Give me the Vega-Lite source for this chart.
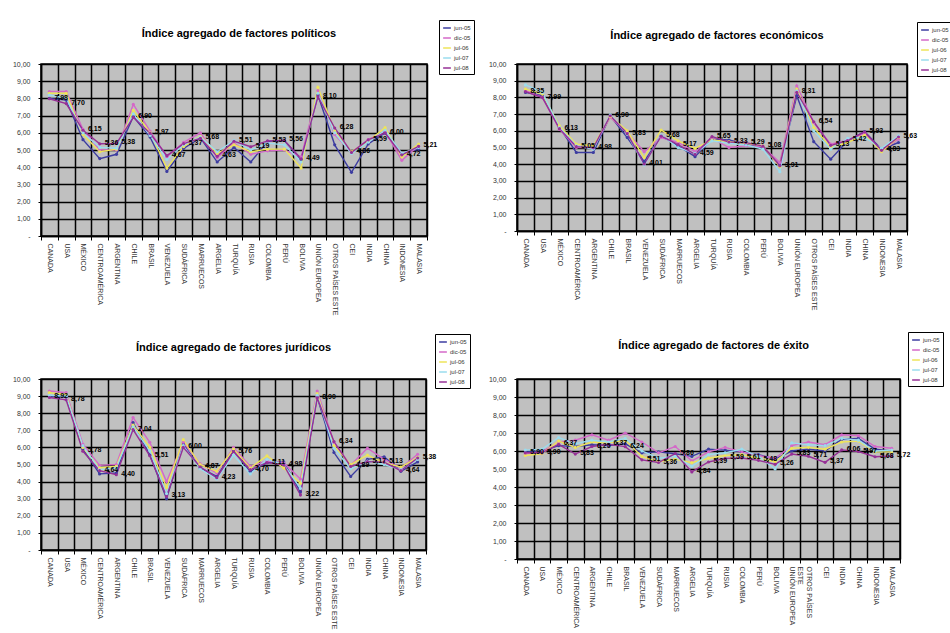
{
  "$schema": "https://vega.github.io/schema/vega-lite/v6.json",
  "background": "white",
  "padding": {"left": 11, "top": 18, "right": 0, "bottom": 0},
  "columns": 2,
  "bounds": "flush",
  "spacing": {"row": 143, "column": 90},
  "datasets": {
    "pol": [
      {"pais": "CANADA", "jun-05": 8.0, "dic-05": 8.4, "jul-06": 8.3, "jul-07": 8.2, "jul-08": 7.98},
      {"pais": "USA", "jun-05": 7.9, "dic-05": 8.4, "jul-06": 8.3, "jul-07": 8.0, "jul-08": 7.70},
      {"pais": "MÉXICO", "jun-05": 5.6, "dic-05": 6.2, "jul-06": 5.9, "jul-07": 6.0, "jul-08": 6.15},
      {"pais": "CENTROAMÉRICA", "jun-05": 4.5, "dic-05": 5.0, "jul-06": 4.9, "jul-07": 5.15, "jul-08": 5.36},
      {"pais": "ARGENTINA", "jun-05": 4.75, "dic-05": 5.0, "jul-06": 5.05, "jul-07": 5.1, "jul-08": 5.38},
      {"pais": "CHILE", "jun-05": 6.95, "dic-05": 7.65, "jul-06": 7.3, "jul-07": 7.1, "jul-08": 6.90},
      {"pais": "BRASIL", "jun-05": 5.75, "dic-05": 6.1, "jul-06": 6.0, "jul-07": 5.85, "jul-08": 5.97},
      {"pais": "VENEZUELA", "jun-05": 3.75, "dic-05": 4.6, "jul-06": 3.95, "jul-07": 4.45, "jul-08": 4.67},
      {"pais": "SUDÁFRICA", "jun-05": 5.1, "dic-05": 5.45, "jul-06": 5.2, "jul-07": 5.3, "jul-08": 5.37},
      {"pais": "MARRUECOS", "jun-05": 5.7, "dic-05": 6.0, "jul-06": 5.8, "jul-07": 5.75, "jul-08": 5.68},
      {"pais": "ARGELIA", "jun-05": 4.3, "dic-05": 4.55, "jul-06": 4.8, "jul-07": 4.9, "jul-08": 4.63},
      {"pais": "TURQUÍA", "jun-05": 5.15, "dic-05": 5.4, "jul-06": 5.3, "jul-07": 5.55, "jul-08": 5.51},
      {"pais": "RUSIA", "jun-05": 4.3, "dic-05": 4.75, "jul-06": 4.9, "jul-07": 5.0, "jul-08": 5.19},
      {"pais": "COLOMBIA", "jun-05": 5.5, "dic-05": 4.95, "jul-06": 5.05, "jul-07": 5.4, "jul-08": 5.53},
      {"pais": "PERÚ", "jun-05": 5.55, "dic-05": 5.0, "jul-06": 5.05, "jul-07": 5.3, "jul-08": 5.56},
      {"pais": "BOLIVIA", "jun-05": 4.45, "dic-05": 4.6, "jul-06": 3.95, "jul-07": 4.3, "jul-08": 4.49},
      {"pais": "UNIÓN EUROPEA", "jun-05": 8.2, "dic-05": 8.45, "jul-06": 8.65, "jul-07": 8.3, "jul-08": 8.10},
      {"pais": "OTROS PAÍSES ESTE", "jun-05": 5.3, "dic-05": 5.9, "jul-06": 6.1, "jul-07": 6.0, "jul-08": 6.28},
      {"pais": "CEI", "jun-05": 3.7, "dic-05": 4.85, "jul-06": 4.9, "jul-07": 4.8, "jul-08": 4.86},
      {"pais": "INDIA", "jun-05": 5.35, "dic-05": 5.6, "jul-06": 5.5, "jul-07": 5.45, "jul-08": 5.59},
      {"pais": "CHINA", "jun-05": 6.0, "dic-05": 6.1, "jul-06": 6.3, "jul-07": 6.15, "jul-08": 6.00},
      {"pais": "INDONESIA", "jun-05": 4.75, "dic-05": 4.4, "jul-06": 4.6, "jul-07": 4.8, "jul-08": 4.72},
      {"pais": "MALASIA", "jun-05": 5.05, "dic-05": 5.25, "jul-06": 5.35, "jul-07": 5.15, "jul-08": 5.21}
    ],
    "eco": [
      {"pais": "CANADA", "jun-05": 8.3, "dic-05": 8.4, "jul-06": 8.5, "jul-07": 8.75, "jul-08": 8.35},
      {"pais": "USA", "jun-05": 8.1, "dic-05": 8.0, "jul-06": 8.2, "jul-07": 8.3, "jul-08": 7.99},
      {"pais": "MÉXICO", "jun-05": 6.2, "dic-05": 6.1, "jul-06": 6.3, "jul-07": 6.2, "jul-08": 6.13},
      {"pais": "CENTROAMÉRICA", "jun-05": 4.7, "dic-05": 5.0, "jul-06": 5.2, "jul-07": 5.1, "jul-08": 5.05},
      {"pais": "ARGENTINA", "jun-05": 4.7, "dic-05": 5.0, "jul-06": 5.1, "jul-07": 4.9, "jul-08": 4.98},
      {"pais": "CHILE", "jun-05": 6.9, "dic-05": 6.8, "jul-06": 6.85, "jul-07": 6.95, "jul-08": 6.90},
      {"pais": "BRASIL", "jun-05": 5.6, "dic-05": 5.9, "jul-06": 6.0, "jul-07": 5.8, "jul-08": 5.83},
      {"pais": "VENEZUELA", "jun-05": 4.15, "dic-05": 4.75, "jul-06": 4.4, "jul-07": 3.95, "jul-08": 4.01},
      {"pais": "SUDÁFRICA", "jun-05": 5.7, "dic-05": 5.6, "jul-06": 6.05, "jul-07": 5.75, "jul-08": 5.68},
      {"pais": "MARRUECOS", "jun-05": 5.1, "dic-05": 5.3, "jul-06": 5.4, "jul-07": 5.0, "jul-08": 5.17},
      {"pais": "ARGELIA", "jun-05": 4.45, "dic-05": 4.75, "jul-06": 4.95, "jul-07": 4.65, "jul-08": 4.59},
      {"pais": "TURQUÍA", "jun-05": 5.5, "dic-05": 5.55, "jul-06": 5.45, "jul-07": 5.4, "jul-08": 5.65},
      {"pais": "RUSIA", "jun-05": 5.45, "dic-05": 5.0, "jul-06": 5.35, "jul-07": 5.25, "jul-08": 5.33},
      {"pais": "COLOMBIA", "jun-05": 5.2, "dic-05": 5.1, "jul-06": 5.25, "jul-07": 5.15, "jul-08": 5.29},
      {"pais": "PERÚ", "jun-05": 5.0, "dic-05": 5.05, "jul-06": 5.1, "jul-07": 4.9, "jul-08": 5.08},
      {"pais": "BOLIVIA", "jun-05": 3.95, "dic-05": 4.1, "jul-06": 3.85, "jul-07": 3.55, "jul-08": 3.91},
      {"pais": "UNIÓN EUROPEA", "jun-05": 8.1, "dic-05": 8.7, "jul-06": 8.5, "jul-07": 8.4, "jul-08": 8.31},
      {"pais": "OTROS PAÍSES ESTE", "jun-05": 5.35, "dic-05": 6.5, "jul-06": 6.2, "jul-07": 6.0, "jul-08": 6.54},
      {"pais": "CEI", "jun-05": 4.3, "dic-05": 5.2, "jul-06": 5.0, "jul-07": 4.9, "jul-08": 5.13},
      {"pais": "INDIA", "jun-05": 5.4, "dic-05": 5.45, "jul-06": 5.3, "jul-07": 5.55, "jul-08": 5.42},
      {"pais": "CHINA", "jun-05": 5.95, "dic-05": 5.85, "jul-06": 5.75, "jul-07": 5.6, "jul-08": 5.93},
      {"pais": "INDONESIA", "jun-05": 4.9, "dic-05": 4.8, "jul-06": 4.75, "jul-07": 4.95, "jul-08": 4.83},
      {"pais": "MALASIA", "jun-05": 5.3, "dic-05": 5.5, "jul-06": 5.6, "jul-07": 5.7, "jul-08": 5.63}
    ],
    "jur": [
      {"pais": "CANADA", "jun-05": 9.0, "dic-05": 9.3, "jul-06": 9.2, "jul-07": 9.05, "jul-08": 8.92},
      {"pais": "USA", "jun-05": 8.95, "dic-05": 9.2, "jul-06": 9.1, "jul-07": 9.0, "jul-08": 8.78},
      {"pais": "MÉXICO", "jun-05": 5.9, "dic-05": 6.2, "jul-06": 6.0, "jul-07": 6.1, "jul-08": 5.78},
      {"pais": "CENTROAMÉRICA", "jun-05": 4.45, "dic-05": 4.95, "jul-06": 4.8, "jul-07": 4.7, "jul-08": 4.64},
      {"pais": "ARGENTINA", "jun-05": 4.5, "dic-05": 5.0, "jul-06": 4.9, "jul-07": 4.8, "jul-08": 4.40},
      {"pais": "CHILE", "jun-05": 7.45, "dic-05": 7.75, "jul-06": 7.3, "jul-07": 7.2, "jul-08": 7.04},
      {"pais": "BRASIL", "jun-05": 5.55, "dic-05": 6.3, "jul-06": 6.0, "jul-07": 5.8, "jul-08": 5.51},
      {"pais": "VENEZUELA", "jun-05": 3.0, "dic-05": 4.0, "jul-06": 3.65, "jul-07": 3.3, "jul-08": 3.13},
      {"pais": "SUDÁFRICA", "jun-05": 6.2, "dic-05": 6.3, "jul-06": 6.45, "jul-07": 6.1, "jul-08": 6.00},
      {"pais": "MARRUECOS", "jun-05": 4.8, "dic-05": 5.05, "jul-06": 5.0, "jul-07": 4.75, "jul-08": 4.87},
      {"pais": "ARGELIA", "jun-05": 4.3, "dic-05": 4.5, "jul-06": 4.6, "jul-07": 4.15, "jul-08": 4.23},
      {"pais": "TURQUÍA", "jun-05": 5.8, "dic-05": 6.0, "jul-06": 5.9, "jul-07": 5.55, "jul-08": 5.76},
      {"pais": "RUSIA", "jun-05": 4.6, "dic-05": 4.9, "jul-06": 4.8, "jul-07": 4.45, "jul-08": 4.70},
      {"pais": "COLOMBIA", "jun-05": 5.1, "dic-05": 5.2, "jul-06": 5.5, "jul-07": 5.3, "jul-08": 5.11},
      {"pais": "PERÚ", "jun-05": 5.15, "dic-05": 5.1, "jul-06": 4.8, "jul-07": 5.0, "jul-08": 4.98},
      {"pais": "BOLIVIA", "jun-05": 3.4, "dic-05": 4.15, "jul-06": 3.9, "jul-07": 3.6, "jul-08": 3.22},
      {"pais": "UNIÓN EUROPEA", "jun-05": 8.95, "dic-05": 9.3, "jul-06": 9.15, "jul-07": 9.05, "jul-08": 8.90},
      {"pais": "OTROS PAÍSES ESTE", "jun-05": 5.7, "dic-05": 6.3, "jul-06": 6.1, "jul-07": 5.95, "jul-08": 6.34},
      {"pais": "CEI", "jun-05": 4.3, "dic-05": 4.95, "jul-06": 5.0, "jul-07": 4.75, "jul-08": 4.89},
      {"pais": "INDIA", "jun-05": 5.3, "dic-05": 5.95, "jul-06": 5.55, "jul-07": 5.2, "jul-08": 5.17},
      {"pais": "CHINA", "jun-05": 5.45, "dic-05": 5.3, "jul-06": 5.1, "jul-07": 5.0, "jul-08": 5.13},
      {"pais": "INDONESIA", "jun-05": 4.6, "dic-05": 4.8, "jul-06": 4.85, "jul-07": 4.7, "jul-08": 4.64},
      {"pais": "MALASIA", "jun-05": 5.15, "dic-05": 5.6, "jul-06": 5.4, "jul-07": 5.3, "jul-08": 5.38}
    ],
    "exi": [
      {"pais": "CANADA", "jun-05": 5.95, "dic-05": 5.85, "jul-06": 5.75, "jul-07": 6.05, "jul-08": 5.90},
      {"pais": "USA", "jun-05": 6.0, "dic-05": 5.95, "jul-06": 5.85, "jul-07": 6.1, "jul-08": 5.90},
      {"pais": "MÉXICO", "jun-05": 6.3, "dic-05": 6.5, "jul-06": 6.55, "jul-07": 6.75, "jul-08": 6.37},
      {"pais": "CENTROAMÉRICA", "jun-05": 6.25, "dic-05": 6.6, "jul-06": 6.2, "jul-07": 6.4, "jul-08": 5.83},
      {"pais": "ARGENTINA", "jun-05": 6.35, "dic-05": 6.9, "jul-06": 6.5, "jul-07": 6.6, "jul-08": 6.25},
      {"pais": "CHILE", "jun-05": 6.3, "dic-05": 6.6, "jul-06": 6.45, "jul-07": 6.5, "jul-08": 6.37},
      {"pais": "BRASIL", "jun-05": 6.4, "dic-05": 7.0, "jul-06": 6.6, "jul-07": 6.7, "jul-08": 6.24},
      {"pais": "VENEZUELA", "jun-05": 5.9, "dic-05": 6.5, "jul-06": 5.7, "jul-07": 6.0, "jul-08": 5.51},
      {"pais": "SUDÁFRICA", "jun-05": 5.95, "dic-05": 5.9, "jul-06": 5.4, "jul-07": 5.6, "jul-08": 5.36},
      {"pais": "MARRUECOS", "jun-05": 5.85, "dic-05": 6.25, "jul-06": 5.55, "jul-07": 5.7, "jul-08": 5.86},
      {"pais": "ARGELIA", "jun-05": 5.7, "dic-05": 5.45, "jul-06": 5.35, "jul-07": 5.15, "jul-08": 4.84},
      {"pais": "TURQUÍA", "jun-05": 6.1, "dic-05": 5.95, "jul-06": 5.6, "jul-07": 5.8, "jul-08": 5.39},
      {"pais": "RUSIA", "jun-05": 6.05, "dic-05": 6.2, "jul-06": 5.75, "jul-07": 5.9, "jul-08": 5.59},
      {"pais": "COLOMBIA", "jun-05": 5.95, "dic-05": 5.95, "jul-06": 5.8, "jul-07": 6.1, "jul-08": 5.61},
      {"pais": "PERÚ", "jun-05": 5.8, "dic-05": 5.75, "jul-06": 5.6, "jul-07": 5.7, "jul-08": 5.48},
      {"pais": "BOLIVIA", "jun-05": 5.55, "dic-05": 5.6, "jul-06": 5.4, "jul-07": 5.0, "jul-08": 5.26},
      {"pais": "UNIÓN EUROPEA", "jun-05": 6.0, "dic-05": 6.3, "jul-06": 6.15, "jul-07": 6.45, "jul-08": 5.83},
      {"pais": "OTROS PAÍSES ESTE", "jun-05": 6.1, "dic-05": 6.5, "jul-06": 6.2, "jul-07": 6.35, "jul-08": 5.71},
      {"pais": "CEI", "jun-05": 6.0, "dic-05": 6.35, "jul-06": 6.1, "jul-07": 6.3, "jul-08": 5.37},
      {"pais": "INDIA", "jun-05": 6.65, "dic-05": 6.9, "jul-06": 6.5, "jul-07": 6.7, "jul-08": 6.06},
      {"pais": "CHINA", "jun-05": 6.7, "dic-05": 6.85, "jul-06": 6.55, "jul-07": 6.6, "jul-08": 5.97},
      {"pais": "INDONESIA", "jun-05": 6.1, "dic-05": 6.25, "jul-06": 5.95, "jul-07": 6.0, "jul-08": 5.68},
      {"pais": "MALASIA", "jun-05": 6.0, "dic-05": 6.15, "jul-06": 5.95, "jul-07": 6.05, "jul-08": 5.72}
    ]
  },
  "concat": [
    {
      "title": {"text": "Índice agregado de factores políticos", "dy": 27, "dx": 5},
      "width": 386, "height": 172,
      "data": {"name": "pol"},
      "transform": [{"fold": ["jun-05", "dic-05", "jul-06", "jul-07", "jul-08"], "as": ["serie", "valor"]}],
      "encoding": {
        "x": {"field": "pais", "type": "nominal", "title": null,
          "sort": ["CANADA", "USA", "MÉXICO", "CENTROAMÉRICA", "ARGENTINA", "CHILE", "BRASIL", "VENEZUELA", "SUDÁFRICA", "MARRUECOS", "ARGELIA", "TURQUÍA", "RUSIA", "COLOMBIA", "PERÚ", "BOLIVIA", "UNIÓN EUROPEA", "OTROS PAÍSES ESTE", "CEI", "INDIA", "CHINA", "INDONESIA", "MALASIA"],
          "scale": {"type": "band", "paddingInner": 0, "paddingOuter": 0},
          "axis": {"grid": true, "tickBand": "extent", "labelAngle": 90, "tickSize": 4, "labelPadding": 3}},
        "y": {"field": "valor", "type": "quantitative", "title": null, "scale": {"domain": [0, 10], "nice": false},
          "axis": {"grid": true, "values": [0, 1, 2, 3, 4, 5, 6, 7, 8, 9, 10], "format": ".2f", "labelExpr": "datum.value == 0 ? '-' : datum.label", "tickSize": 3, "labelPadding": 8}}
      },
      "layer": [
        {"mark": {"type": "line", "strokeWidth": 1.4, "point": {"filled": true, "size": 10}},
         "encoding": {"color": {"field": "serie", "type": "nominal",
           "scale": {"domain": ["jun-05", "dic-05", "jul-06", "jul-07", "jul-08"], "range": ["#3c3ca0", "#d468c8", "#eee45a", "#9adcee", "#963096"]},
           "legend": {"orient": "none", "legendX": 398, "legendY": -44}}}},
        {"transform": [{"filter": "datum.serie == 'jul-08'"}],
         "mark": {"type": "text", "align": "left", "dx": 5, "dy": -1, "fontSize": 7, "fontWeight": "bold", "color": "#000"},
         "encoding": {"text": {"field": "valor", "type": "quantitative", "format": ".2f"}}}
      ]
    },
    {
      "title": {"text": "Índice agregado de factores económicos", "dy": 27, "dx": 5},
      "width": 390, "height": 167,
      "data": {"name": "eco"},
      "transform": [{"fold": ["jun-05", "dic-05", "jul-06", "jul-07", "jul-08"], "as": ["serie", "valor"]}],
      "encoding": {
        "x": {"field": "pais", "type": "nominal", "title": null,
          "sort": ["CANADA", "USA", "MÉXICO", "CENTROAMÉRICA", "ARGENTINA", "CHILE", "BRASIL", "VENEZUELA", "SUDÁFRICA", "MARRUECOS", "ARGELIA", "TURQUÍA", "RUSIA", "COLOMBIA", "PERÚ", "BOLIVIA", "UNIÓN EUROPEA", "OTROS PAÍSES ESTE", "CEI", "INDIA", "CHINA", "INDONESIA", "MALASIA"],
          "scale": {"type": "band", "paddingInner": 0, "paddingOuter": 0},
          "axis": {"grid": true, "tickBand": "extent", "labelAngle": 90, "tickSize": 4, "labelPadding": 3}},
        "y": {"field": "valor", "type": "quantitative", "title": null, "scale": {"domain": [0, 10], "nice": false},
          "axis": {"grid": true, "values": [0, 1, 2, 3, 4, 5, 6, 7, 8, 9, 10], "format": ".2f", "labelExpr": "datum.value == 0 ? '-' : datum.label", "tickSize": 3, "labelPadding": 8}}
      },
      "layer": [
        {"mark": {"type": "line", "strokeWidth": 1.4, "point": {"filled": true, "size": 10}},
         "encoding": {"color": {"field": "serie", "type": "nominal",
           "scale": {"domain": ["jun-05", "dic-05", "jul-06", "jul-07", "jul-08"], "range": ["#3c3ca0", "#d468c8", "#eee45a", "#9adcee", "#963096"]},
           "legend": {"orient": "none", "legendX": 400, "legendY": -42}}}},
        {"transform": [{"filter": "datum.serie == 'jul-08'"}],
         "mark": {"type": "text", "align": "left", "dx": 5, "dy": -1, "fontSize": 7, "fontWeight": "bold", "color": "#000"},
         "encoding": {"text": {"field": "valor", "type": "quantitative", "format": ".2f"}}}
      ]
    },
    {
      "title": {"text": "Índice agregado de factores jurídicos", "dy": 27},
      "width": 385, "height": 171,
      "data": {"name": "jur"},
      "transform": [{"fold": ["jun-05", "dic-05", "jul-06", "jul-07", "jul-08"], "as": ["serie", "valor"]}],
      "encoding": {
        "x": {"field": "pais", "type": "nominal", "title": null,
          "sort": ["CANADA", "USA", "MÉXICO", "CENTROAMÉRICA", "ARGENTINA", "CHILE", "BRASIL", "VENEZUELA", "SUDÁFRICA", "MARRUECOS", "ARGELIA", "TURQUÍA", "RUSIA", "COLOMBIA", "PERÚ", "BOLIVIA", "UNIÓN EUROPEA", "OTROS PAÍSES ESTE", "CEI", "INDIA", "CHINA", "INDONESIA", "MALASIA"],
          "scale": {"type": "band", "paddingInner": 0, "paddingOuter": 0},
          "axis": {"grid": true, "tickBand": "extent", "labelAngle": 90, "tickSize": 4, "labelPadding": 3}},
        "y": {"field": "valor", "type": "quantitative", "title": null, "scale": {"domain": [0, 10], "nice": false},
          "axis": {"grid": true, "values": [0, 1, 2, 3, 4, 5, 6, 7, 8, 9, 10], "format": ".2f", "labelExpr": "datum.value == 0 ? '-' : datum.label", "tickSize": 3, "labelPadding": 8}}
      },
      "layer": [
        {"mark": {"type": "line", "strokeWidth": 1.4, "point": {"filled": true, "size": 10}},
         "encoding": {"color": {"field": "serie", "type": "nominal",
           "scale": {"domain": ["jun-05", "dic-05", "jul-06", "jul-07", "jul-08"], "range": ["#3c3ca0", "#d468c8", "#eee45a", "#9adcee", "#963096"]},
           "legend": {"orient": "none", "legendX": 394, "legendY": -45}}}},
        {"transform": [{"filter": "datum.serie == 'jul-08'"}],
         "mark": {"type": "text", "align": "left", "dx": 5, "dy": -1, "fontSize": 7, "fontWeight": "bold", "color": "#000"},
         "encoding": {"text": {"field": "valor", "type": "quantitative", "format": ".2f"}}}
      ]
    },
    {
      "title": {"text": "Índice agregado de factores de éxito", "dy": 27, "dx": 5},
      "width": 383, "height": 180,
      "data": {"name": "exi"},
      "transform": [{"fold": ["jun-05", "dic-05", "jul-06", "jul-07", "jul-08"], "as": ["serie", "valor"]}],
      "encoding": {
        "x": {"field": "pais", "type": "nominal", "title": null,
          "sort": ["CANADA", "USA", "MÉXICO", "CENTROAMÉRICA", "ARGENTINA", "CHILE", "BRASIL", "VENEZUELA", "SUDÁFRICA", "MARRUECOS", "ARGELIA", "TURQUÍA", "RUSIA", "COLOMBIA", "PERÚ", "BOLIVIA", "UNIÓN EUROPEA", "OTROS PAÍSES ESTE", "CEI", "INDIA", "CHINA", "INDONESIA", "MALASIA"],
          "scale": {"type": "band", "paddingInner": 0, "paddingOuter": 0},
          "axis": {"grid": true, "tickBand": "extent", "labelAngle": 90, "tickSize": 4, "labelPadding": 3,
            "labelExpr": "datum.label == 'OTROS PAÍSES ESTE' ? ['OTROS PAÍSES', 'ESTE'] : datum.label"}},
        "y": {"field": "valor", "type": "quantitative", "title": null, "scale": {"domain": [0, 10], "nice": false},
          "axis": {"grid": true, "values": [0, 1, 2, 3, 4, 5, 6, 7, 8, 9, 10], "format": ".2f", "labelExpr": "datum.value == 0 ? '-' : datum.label", "tickSize": 3, "labelPadding": 8}}
      },
      "layer": [
        {"mark": {"type": "line", "strokeWidth": 1.4, "point": {"filled": true, "size": 10}},
         "encoding": {"color": {"field": "serie", "type": "nominal",
           "scale": {"domain": ["jun-05", "dic-05", "jul-06", "jul-07", "jul-08"], "range": ["#3c3ca0", "#d468c8", "#eee45a", "#9adcee", "#963096"]},
           "legend": {"orient": "none", "legendX": 391, "legendY": -47}}}},
        {"transform": [{"filter": "datum.serie == 'jul-08'"}],
         "mark": {"type": "text", "align": "left", "dx": 5, "dy": -1, "fontSize": 7, "fontWeight": "bold", "color": "#000"},
         "encoding": {"text": {"field": "valor", "type": "quantitative", "format": ".2f"}}}
      ]
    }
  ],
  "resolve": {"scale": {"color": "independent"}},
  "config": {
    "locale": {"number": {"decimal": ",", "thousands": ".", "grouping": [3], "currency": ["", " €"]}},
    "font": "Liberation Sans",
    "view": {"fill": "#c0c0c0", "stroke": "#000", "strokeWidth": 1.5},
    "axis": {"gridColor": "#000", "gridOpacity": 1, "gridWidth": 1.5, "domainColor": "#000", "domainWidth": 1.5, "tickColor": "#000", "labelFont": "Liberation Sans", "labelFontSize": 7, "labelColor": "#333", "labelLimit": 90},
    "title": {"font": "Liberation Sans", "fontSize": 11, "fontWeight": "bold", "color": "#000", "anchor": "middle", "frame": "group", "offset": 8},
    "legend": {"title": null, "fillColor": "white", "strokeColor": "#000", "padding": 3, "labelFontSize": 6, "labelColor": "#333", "symbolType": "stroke", "symbolStrokeWidth": 1.5, "symbolSize": 60, "rowPadding": 2, "labelOffset": 2}
  }
}
